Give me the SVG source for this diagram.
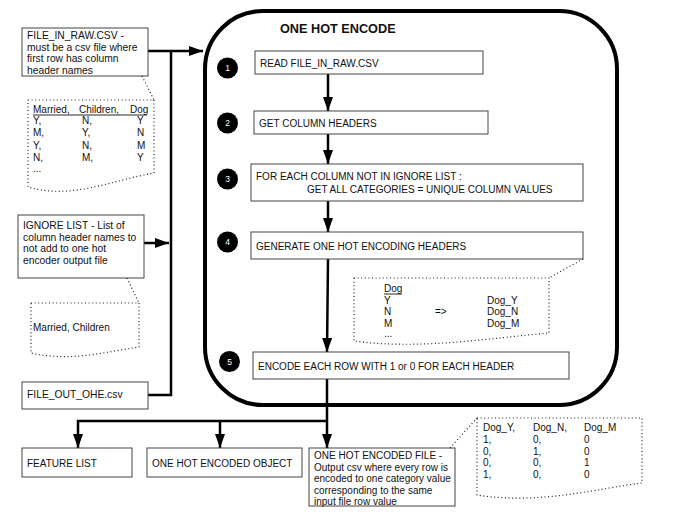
<svg xmlns="http://www.w3.org/2000/svg" width="693" height="531" viewBox="0 0 693 531">
<style>
text{font-family:"Liberation Sans",Arial,sans-serif;font-size:10px;fill:#111}
.l{font-size:10.3px}
.box{fill:#fff;stroke:#444;stroke-width:1}
.dot{fill:none;stroke:#222;stroke-width:1.2;stroke-dasharray:1 2.6}
.conn{fill:none;stroke:#000;stroke-width:2.5}
.num{fill:#000}
.nt{fill:#fff;font-size:8.5px;text-anchor:middle}
.ul{stroke:#111;stroke-width:0.9}
</style>
<defs>
<marker id="arr" viewBox="0 0 14 10" refX="14" refY="5" markerWidth="14" markerHeight="10" markerUnits="userSpaceOnUse" orient="auto">
<path d="M0,0 L14,5 L0,10 z" fill="#000"/>
</marker>
</defs>
<rect width="693" height="531" fill="#fff"/>

<g id="one-hot-encode">
<rect x="205" y="11" width="412" height="394" rx="58" ry="58" fill="none" stroke="#000" stroke-width="4"/>
<text x="280" y="33" style="font-weight:bold;font-size:12.7px">ONE HOT ENCODE</text>
</g>

<g id="connectors">
<path class="conn" d="M148,51 L203,51" marker-end="url(#arr)"/>
<path class="conn" d="M144,243 L169,243" marker-end="url(#arr)"/>
<path class="conn" d="M148,395 L171,395 L171,51"/>
<path class="conn" d="M328,74 L328,111" marker-end="url(#arr)"/>
<path class="conn" d="M328,134 L328,164" marker-end="url(#arr)"/>
<path class="conn" d="M328,201 L328,232" marker-end="url(#arr)"/>
<path class="conn" d="M328,259 L327,352" marker-end="url(#arr)"/>
<path class="conn" d="M327,379 L327,448" marker-end="url(#arr)"/>
<path class="conn" d="M327,421 L78,421 L78,448" marker-end="url(#arr)"/>
<path class="conn" d="M220,421 L220,448" marker-end="url(#arr)"/>
</g>

<g id="file-in-raw">
<rect class="box" x="22" y="28" width="126" height="48"/>
<text class="l" x="27" y="39">FILE_IN_RAW.CSV -</text>
<text class="l" x="27" y="50.5">must be a csv file where</text>
<text class="l" x="27" y="62">first row has column</text>
<text class="l" x="27" y="73.5">header names</text>
</g>

<g id="csv-sample">
<path class="dot" d="M142,76 L154,100"/>
<path class="dot" d="M28,100 L154,100 L154,173 C112,180 72,200 28,187 Z"/>
<text x="33" y="113">Married,</text>
<text x="79" y="113">Children,</text>
<text x="130" y="113">Dog</text>
<line class="ul" x1="33" y1="115" x2="147" y2="115"/>
<text x="33" y="124">Y,</text><text x="82" y="124">N,</text><text x="137" y="124">Y</text>
<text x="33" y="136">M,</text><text x="82" y="136">Y,</text><text x="137" y="136">N</text>
<text x="33" y="149">Y,</text><text x="82" y="149">N,</text><text x="137" y="149">M</text>
<text x="33" y="161">N,</text><text x="82" y="161">M,</text><text x="137" y="161">Y</text>
<text x="33" y="172">...</text>
</g>

<g id="ignore-list">
<rect class="box" x="18" y="215" width="126" height="63"/>
<text class="l" x="23" y="229">IGNORE LIST - List of</text>
<text class="l" x="23" y="240.5">column header names to</text>
<text class="l" x="23" y="252">not add to one hot</text>
<text class="l" x="23" y="264">encoder output file</text>
</g>

<g id="ignore-sample">
<path class="dot" d="M127,278 L139,303"/>
<path class="dot" d="M31,303 L139,303 L139,347 C105,352 70,362 31,353 Z"/>
<text x="33" y="331">Married, Children</text>
</g>

<g id="file-out-ohe">
<rect class="box" x="22" y="382" width="126" height="27"/>
<text class="l" x="27" y="398">FILE_OUT_OHE.csv</text>
</g>

<g id="step1">
<circle class="num" cx="227.5" cy="68" r="10.5"/>
<text class="nt" x="227.5" y="71">1</text>
<rect class="box" x="255" y="51" width="228" height="23"/>
<text x="260" y="66.5">READ FILE_IN_RAW.CSV</text>
</g>

<g id="step2">
<circle class="num" cx="227.5" cy="123" r="10.5"/>
<text class="nt" x="227.5" y="126">2</text>
<rect class="box" x="254" y="111" width="234" height="23"/>
<text x="259" y="126.5">GET COLUMN HEADERS</text>
</g>

<g id="step3">
<circle class="num" cx="227.5" cy="179" r="10.5"/>
<text class="nt" x="227.5" y="182">3</text>
<rect class="box" x="251" y="164" width="332" height="37"/>
<text x="256" y="179.5">FOR EACH COLUMN NOT IN IGNORE LIST :</text>
<text x="307" y="192.5">GET ALL CATEGORIES = UNIQUE COLUMN VALUES</text>
</g>

<g id="step4">
<circle class="num" cx="227.5" cy="242" r="10.5"/>
<text class="nt" x="227.5" y="245">4</text>
<rect class="box" x="251" y="232" width="332" height="27"/>
<text x="256" y="249.5">GENERATE ONE HOT ENCODING HEADERS</text>
</g>

<g id="step4-sample">
<path class="dot" d="M583,259 L549,278"/>
<path class="dot" d="M354,278 L549,278 L549,333 C490,338 420,350 354,341 Z"/>
<text x="384" y="292">Dog</text>
<line class="ul" x1="384" y1="294" x2="402" y2="294"/>
<text x="384" y="303.5">Y</text>
<text x="384" y="315">N</text>
<text x="384" y="326.5">M</text>
<text x="384" y="337">...</text>
<text x="435" y="315">=&gt;</text>
<text x="487" y="303.5">Dog_Y</text>
<text x="487" y="315">Dog_N</text>
<text x="487" y="326.5">Dog_M</text>
</g>

<g id="step5">
<circle class="num" cx="229.5" cy="361.5" r="10.5"/>
<text class="nt" x="229.5" y="364.5">5</text>
<rect class="box" x="253" y="352" width="316" height="27"/>
<text x="258" y="369.5">ENCODE EACH ROW WITH 1 or 0 FOR EACH HEADER</text>
</g>

<g id="feature-list">
<rect class="box" x="22" y="448" width="110" height="29"/>
<text x="27" y="467">FEATURE LIST</text>
</g>

<g id="ohe-object">
<rect class="box" x="147" y="448" width="155" height="29"/>
<text x="152" y="467">ONE HOT ENCODED OBJECT</text>
</g>

<g id="ohe-file">
<rect class="box" x="309" y="448" width="146" height="58"/>
<text x="314" y="459">ONE HOT ENCODED FILE -</text>
<text x="314" y="470.5">Output csv where every row is</text>
<text x="314" y="482">encoded to one category value</text>
<text x="314" y="493.5">corresponding to the same</text>
<text x="314" y="505">input file row value</text>
</g>

<g id="ohe-file-sample">
<path class="dot" d="M450,448 L477,418"/>
<path class="dot" d="M477,418 L642,418 L642,483 C600,488 540,505 477,495 Z"/>
<text x="483" y="431">Dog_Y,</text><text x="533" y="431">Dog_N,</text><text x="584" y="431">Dog_M</text>
<text x="483" y="443">1,</text><text x="533" y="443">0,</text><text x="584" y="443">0</text>
<text x="483" y="454.5">0,</text><text x="533" y="454.5">1,</text><text x="584" y="454.5">0</text>
<text x="483" y="466">0,</text><text x="533" y="466">0,</text><text x="584" y="466">1</text>
<text x="483" y="477.5">1,</text><text x="533" y="477.5">0,</text><text x="584" y="477.5">0</text>
</g>
</svg>
